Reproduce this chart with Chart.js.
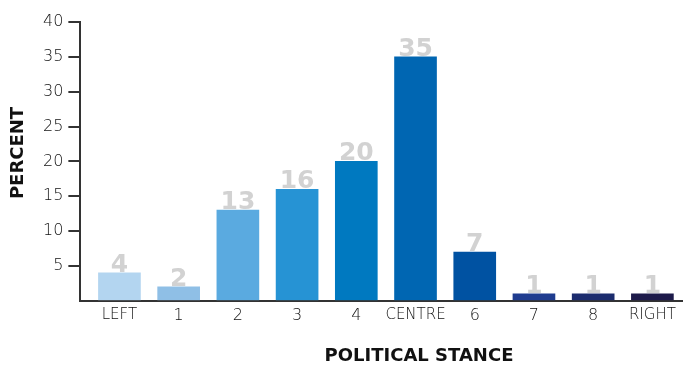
<!DOCTYPE html>
<html>
<head>
<meta charset="utf-8">
<script src="https://cdn.jsdelivr.net/npm/chart.js@4.4.1/dist/chart.umd.min.js"></script>
<style>
  html, body { margin: 0; padding: 0; background: #fff; }
  #wrap { width: 683px; height: 365px; position: relative; }
</style>
</head>
<body>
<div id="wrap"><canvas id="chart"></canvas></div>
<script>
const categories = ["LEFT", "1", "2", "3", "4", "CENTRE", "6", "7", "8", "RIGHT"]
const percents = [4, 2, 13, 16, 20, 35, 7, 1, 1, 1]
const yTicks = [0, 5, 10, 15, 20, 25, 30, 35, 40]

const barColors = [
  "#b3d5f0", "#8fbfe6", "#5aaae0", "#2693d4", "#0079c0",
  "#0066b2", "#0052a2", "#1f3c8f", "#1c2c6e", "#1d1a4a"
]
const wordLabels = ["LEFT", "CENTRE", "RIGHT"]

// value labels above each bar
const valueLabels = {
  id: "valueLabels",
  afterDatasetsDraw(chart) {
    const ctx = chart.ctx
    const meta = chart.getDatasetMeta(0)
    ctx.save()
    ctx.fillStyle = "#d2d2d2"
    ctx.font = "bold 25px 'DejaVu Sans'"
    ctx.textAlign = "center"
    ctx.textBaseline = "alphabetic"
    meta.data.forEach((bar, i) => {
      ctx.fillText(String(percents[i]), bar.x, bar.y - 1)
    })
    ctx.restore()
  }
}

// axis titles
const axisTitles = {
  id: "axisTitles",
  afterDraw(chart) {
    const ctx = chart.ctx
    ctx.save()
    ctx.fillStyle = "#111"
    ctx.font = "bold 18px 'DejaVu Sans'"
    ctx.textAlign = "center"
    ctx.textBaseline = "middle"
    ctx.fillText("POLITICAL STANCE", 419, 356)
    ctx.translate(18, 153)
    ctx.rotate(-Math.PI / 2)
    ctx.fillText("PERCENT", 0, 0)
    ctx.restore()
  }
}

const ctx = document.getElementById("chart").getContext("2d")
new Chart(ctx, {
  type: "bar",
  data: {
    datasets: [
      {
        data: percents.map((v, i) => ({ x: i, y: v })),
        backgroundColor: barColors,
        borderWidth: 0,
        barThickness: 42
      }
    ]
  },
  options: {
    responsive: true,
    maintainAspectRatio: false,
    animation: false,
    layout: { padding: { left: 38, right: 1, top: 22, bottom: 35 } },
    plugins: {
      legend: { display: false },
      tooltip: { enabled: false }
    },
    scales: {
      x: {
        type: "linear",
        offset: false,
        min: -0.66,
        max: 9.5,
        grid: { display: false, drawTicks: false },
        border: { display: true, color: "#333", width: 2 },
        ticks: {
          stepSize: 1,
          includeBounds: false,
          autoSkip: false,
          maxRotation: 0,
          padding: 5,
          color: "#111",
          font: (c) => {
            const label = categories[c.tick ? c.tick.value : 0]
            return wordLabels.includes(label)
              ? { family: "'DejaVu Sans'", size: 15, weight: 300 }
              : { family: "'DejaVu Sans'", size: 16, weight: 300 }
          },
          callback: (v) => (Number.isInteger(v) ? categories[v] : "")
        }
      },
      y: {
        min: 0,
        max: 40,
        grid: {
          drawOnChartArea: false,
          drawTicks: true,
          tickLength: 12,
          lineWidth: 2,
          color: (c) => (c.tick && c.tick.value === 0 ? "rgba(0,0,0,0)" : "#333")
        },
        border: { display: true, color: "#333", width: 2 },
        afterBuildTicks: (scale) => {
          scale.ticks = yTicks.map((v) => ({ value: v }))
        },
        ticks: {
          padding: 5,
          color: "#111",
          font: { family: "'DejaVu Sans'", size: 16, weight: 300 },
          callback: (v) => (v === 0 ? "" : v)
        }
      }
    }
  },
  plugins: [valueLabels, axisTitles]
})
</script>
</body>
</html>
